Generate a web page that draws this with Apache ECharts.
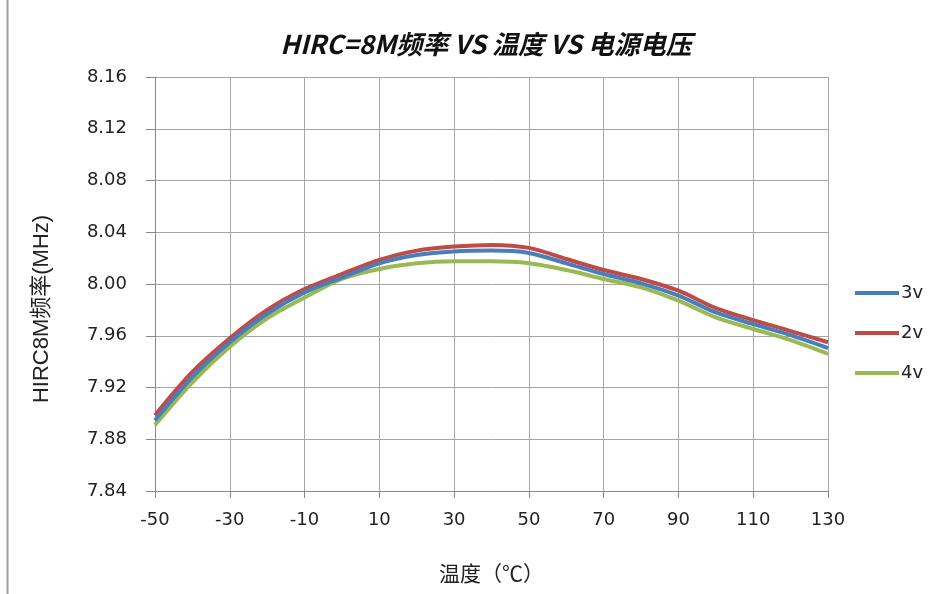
<!DOCTYPE html>
<html><head><meta charset="utf-8">
<script src="https://cdn.jsdelivr.net/npm/echarts@6/dist/echarts.min.js"></script>
<style>html,body{margin:0;padding:0;background:#fff}#c{width:937px;height:594px}</style>
</head><body><div id="c"></div>
<script>
const temps = [-50,-40,-30,-20,-10,0,10,20,30,40,50,60,70,80,90,100,110,120,130];
const v3 = [7.8947,7.928,7.955,7.977,7.9935,8.005,8.016,8.0224,8.0252,8.0258,8.024,8.016,8.0077,8.0005,7.991,7.978,7.969,7.9605,7.9505];
const v2 = [7.8986,7.932,7.958,7.9799,7.996,8.0077,8.0186,8.0258,8.0289,8.0302,8.0279,8.0193,8.0108,8.0039,7.9948,7.9814,7.9721,7.9636,7.955];
const v4 = [7.891,7.924,7.9515,7.9735,7.9896,8.004,8.0116,8.016,8.0175,8.0175,8.016,8.0108,8.0039,7.9974,7.9871,7.9742,7.9652,7.9566,7.946];
const seriesNames = ['3v','2v','4v'];
const yTicks = {min:7.84, max:8.16, interval:0.04};
const xTicks = {min:-50, max:130, interval:20};
const titleText = 'HIRC=8M频率 VS 温度 VS 电源电压';
const xName = '温度（℃）';
const yName = 'HIRC8M频率(MHz)';

const pair = arr => temps.map((t,i)=>[t,arr[i]]);
const colors = ['#4a7ebb','#be4b48','#98b954'];
const chart = echarts.init(document.getElementById('c'));
const font = '"DejaVu Sans","Noto Sans CJK SC",sans-serif';
chart.setOption({
  animation:false,
  title:{text:titleText,left:481,textAlign:'center',top:26,
    textStyle:{fontFamily:'"Noto Sans CJK SC",sans-serif',fontWeight:'bold',fontStyle:'italic',fontSize:26,color:'#111'}},
  grid:{left:155,right:109,top:77,bottom:103,containLabel:false,outerBoundsMode:'none'},
  legend:{orient:'vertical',left:850,top:279,itemWidth:44,itemHeight:4,itemGap:22,
    icon:'rect',data:seriesNames,textStyle:{fontSize:18,color:'#222',fontFamily:font,padding:[0,0,0,-3]}},
  xAxis:{type:'value',min:xTicks.min,max:xTicks.max,interval:xTicks.interval,
    name:xName,nameLocation:'middle',nameGap:72,
    nameTextStyle:{fontSize:21,color:'#222',fontFamily:'"Noto Sans CJK SC",sans-serif'},
    axisLine:{show:true,onZero:false,lineStyle:{color:'#888',width:1}},
    axisTick:{show:true,length:7,inside:false,lineStyle:{color:'#888'}},
    axisLabel:{fontSize:18,color:'#222',margin:20,fontFamily:font},
    splitLine:{show:true,lineStyle:{color:'#a6a6a6',width:1}}},
  yAxis:{type:'value',min:yTicks.min,max:yTicks.max,interval:yTicks.interval,
    axisLine:{show:true,onZero:false,lineStyle:{color:'#888',width:1}},
    axisTick:{show:true,length:9,inside:false,lineStyle:{color:'#888'}},
    axisLabel:{fontSize:18,color:'#222',margin:28,fontFamily:font,formatter:v=>v.toFixed(2)},
    splitLine:{show:true,lineStyle:{color:'#a6a6a6',width:1}}},
  series:[v3,v2,v4].map((d,i)=>({name:seriesNames[i],type:'line',data:pair(d),smooth:0.3,
    showSymbol:false,symbol:'none',lineStyle:{width:4,color:colors[i]},itemStyle:{color:colors[i]},z:[3,2,1][i]})),
  graphic:[
    {type:'line',shape:{x1:7.5,y1:0,x2:7.5,y2:594},style:{stroke:'#a0a0a0',lineWidth:2}},
    {type:'text',x:42,y:309,rotation:Math.PI/2,
      style:{text:yName,fontSize:22,fill:'#222',fontFamily:'"Liberation Sans","Noto Sans CJK SC",sans-serif',align:'center',verticalAlign:'middle'}}
  ]
});
</script></body></html>
